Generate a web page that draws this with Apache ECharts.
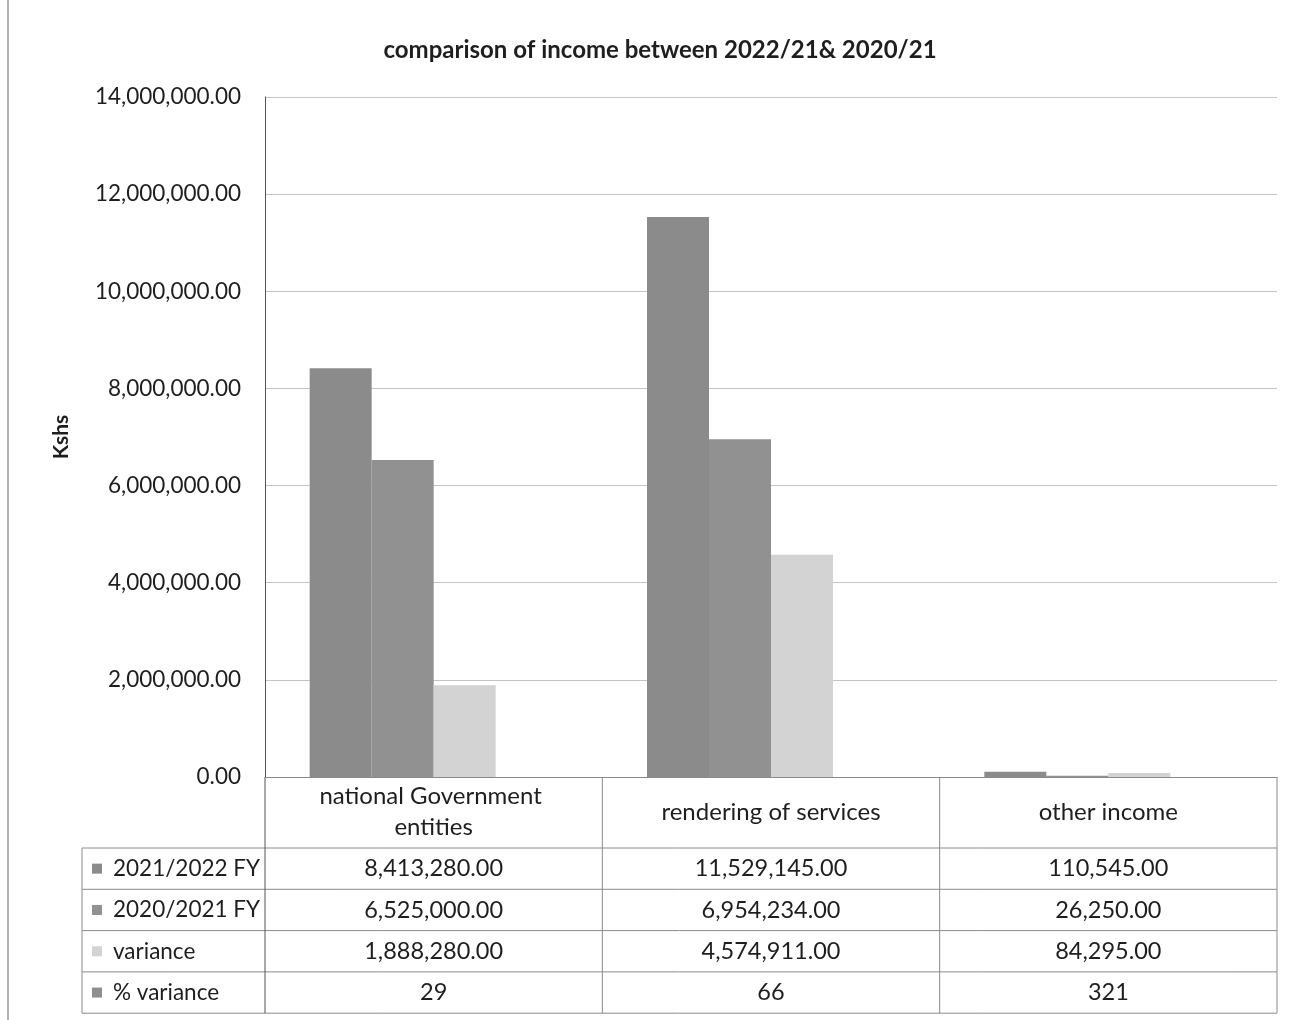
<!DOCTYPE html>
<html>
<head>
<meta charset="utf-8">
<script src="https://cdn.jsdelivr.net/npm/echarts@6/dist/echarts.min.js"></script>
<style>
html,body{margin:0;padding:0;background:#fff;}
#chart{width:1295px;height:1020px;}
</style>
</head>
<body>
<div id="chart"></div>
<script>
const categories = ['national Government entities', 'rendering of services', 'other income'];
const seriesNames = ['2021/2022 FY', '2020/2021 FY', 'variance', '% variance'];
const fy2021_2022 = [8413280, 11529145, 110545];
const fy2020_2021 = [6525000, 6954234, 26250];
const varianceVals = [1888280, 4574911, 84295];
const pctVariance = [29, 66, 321];
const yMin = 0, yMax = 14000000, yInterval = 2000000;

const seriesData = [fy2021_2022, fy2020_2021, varianceVals, pctVariance];
const colors = ['#8b8b8b', '#919191', '#d3d3d3', '#8e8e8e'];
const FONT = 'Lato, "Open Sans", sans-serif';
const TXT = '#1e1e1e';

const fmt2 = v => v.toLocaleString('en-US', {minimumFractionDigits: 2, maximumFractionDigits: 2});
const fmt0 = v => v.toLocaleString('en-US', {maximumFractionDigits: 0});

const G = {left: 265, right: 18, top: 97, bottom: 243};
const W = 1295, H = 1020;
const axisY = H - G.bottom;
const plotRight = W - G.right;
const bandW = (plotRight - G.left) / categories.length;
const rowTop = 848, rowH = 41.3;
const legendLeft = 82;

const chart = echarts.init(document.getElementById('chart'), null, {renderer: 'canvas'});

const graphics = [];
graphics.push({type: 'line', shape: {x1: 8, y1: 0, x2: 8, y2: H}, style: {stroke: '#9a9a9a', lineWidth: 1.5}});
for (let r = 0; r <= seriesNames.length; r++) {
  const y = rowTop + r * rowH;
  graphics.push({type: 'line', shape: {x1: legendLeft, y1: y, x2: plotRight, y2: y}, style: {stroke: '#8a8a8a', lineWidth: 1}});
}
graphics.push({type: 'line', shape: {x1: legendLeft, y1: rowTop, x2: legendLeft, y2: rowTop + seriesNames.length * rowH}, style: {stroke: '#8a8a8a', lineWidth: 1}});
for (let c = 0; c <= categories.length; c++) {
  const x = G.left + c * bandW;
  graphics.push({type: 'line', shape: {x1: x, y1: axisY, x2: x, y2: rowTop + seriesNames.length * rowH}, style: {stroke: c === 0 ? '#555' : '#8a8a8a', lineWidth: 1}});
}
seriesNames.forEach((name, r) => {
  const cy = rowTop + r * rowH + rowH / 2;
  graphics.push({type: 'rect', shape: {x: 92, y: cy - 5, width: 10, height: 10}, style: {fill: colors[r]}});
  graphics.push({type: 'text', x: 113, y: cy, style: {text: name, font: '22.5px ' + FONT, fill: TXT, verticalAlign: 'middle', align: 'left'}});
  seriesData[r].forEach((v, c) => {
    graphics.push({type: 'text', x: G.left + (c + 0.5) * bandW, y: cy, style: {text: r === 3 ? fmt0(v) : fmt2(v), font: '23.5px ' + FONT, fill: TXT, verticalAlign: 'middle', align: 'center'}});
  });
});

chart.setOption({
  animation: false,
  backgroundColor: '#fff',
  title: {
    text: 'comparison of income between 2022/21& 2020/21',
    left: 655, top: 33, textAlign: 'center',
    textStyle: {fontFamily: FONT, fontSize: 24, fontWeight: 'bold', color: TXT}
  },
  grid: {left: G.left, right: G.right, top: G.top, bottom: G.bottom, containLabel: false},
  xAxis: {
    type: 'category',
    data: categories,
    axisLine: {show: true, lineStyle: {color: '#8a8a8a', width: 1}},
    axisTick: {show: false},
    axisLabel: {
      interval: 0, margin: 35, verticalAlign: 'middle',
      width: 290, overflow: 'break', lineHeight: 31,
      fontFamily: FONT, fontSize: 24, color: TXT
    }
  },
  yAxis: {
    type: 'value',
    min: yMin, max: yMax, interval: yInterval,
    name: 'Kshs', nameLocation: 'middle', nameGap: 193,
    nameTextStyle: {fontFamily: FONT, fontSize: 21, fontWeight: 'bold', color: TXT},
    axisLine: {show: true, lineStyle: {color: '#555', width: 1}},
    axisTick: {show: false},
    splitLine: {show: true, lineStyle: {color: '#c4c4c4', width: 1}},
    axisLabel: {formatter: v => fmt2(v), margin: 24, fontFamily: FONT, fontSize: 22.5, color: TXT}
  },
  series: seriesNames.map((n, i) => ({
    name: n, type: 'bar', data: seriesData[i],
    barWidth: 62, barGap: '0%',
    itemStyle: {color: colors[i]}
  })),
  graphic: graphics
});
</script>
</body>
</html>
